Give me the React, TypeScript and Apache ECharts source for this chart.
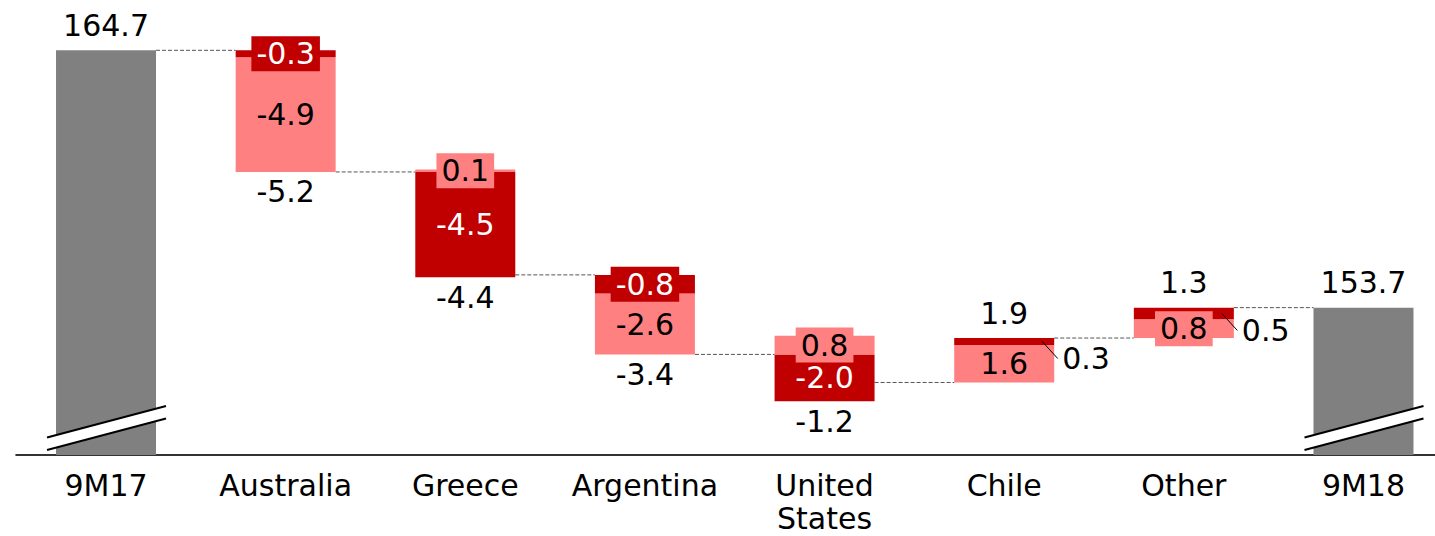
import React, { useEffect, useRef } from 'react';
import * as echarts from 'echarts';

// ---- data ----
const categories = ['9M17', 'Australia', 'Greece', 'Argentina', 'United States', 'Chile', 'Other', '9M18'];
const startTotal = 164.7;
const endTotal = 153.7;
const darkValues = [-0.3, -4.5, -0.8, -2.0, 0.3, 0.5];
const lightValues = [-4.9, 0.1, -2.6, 0.8, 1.6, 0.8];
const netValues = [-5.2, -4.4, -3.4, -1.2, 1.9, 1.3];
const axisMin = 147.4;
const axisMax = 166;

// ---- styles ----
const DARK = '#C00000';
const LIGHT = '#FF8080';
const GREY = '#808080';
const FONT = 'DejaVu Sans';
const FS = 30;
const BAR_W = 100;
const CHART_W = 1460;

type Seg = { lo: number; hi: number; kind: 'dark' | 'light'; v: number };

function buildOption() {
  const baseData: any[] = [];
  const lowerData: any[] = [];
  const upperData: any[] = [];
  const connectors: number[][] = [];
  const leaders: number[][] = [];
  const netLabels: number[][] = [];

  const segItem = (s: Seg, i: number) => {
    const isDark = s.kind === 'dark';
    const small = Math.abs(s.v) < 1;
    const outside = isDark && s.v > 0;
    const label: any = {
      show: true,
      formatter: s.v.toFixed(1),
      fontSize: FS,
      fontFamily: FONT,
      color: isDark ? '#ffffff' : '#000000',
    };
    if (outside) {
      Object.assign(label, { position: 'right', distance: 8, offset: [0, 17], color: '#000000' });
      leaders.push([i, (s.lo + s.hi) / 2]);
    } else {
      label.position = 'inside';
      if (small) {
        Object.assign(label, {
          backgroundColor: isDark ? DARK : LIGHT,
          padding: [2, 5],
          lineHeight: 31,
        });
      }
    }
    return { value: s.hi - s.lo, itemStyle: { color: isDark ? DARK : LIGHT }, label };
  };

  baseData.push({ value: startTotal, itemStyle: { color: GREY } });
  lowerData.push('-');
  upperData.push('-');
  netLabels.push([0, startTotal, startTotal, 1]);
  let level = startTotal;
  connectors.push([0, level]);

  for (let k = 0; k < darkValues.length; k++) {
    const i = k + 1;
    const comps: { kind: 'dark' | 'light'; v: number }[] = [
      { kind: 'dark', v: darkValues[k] },
      { kind: 'light', v: lightValues[k] },
    ];
    const neg = comps.filter((c) => c.v < 0);
    const pos = comps.filter((c) => c.v > 0).reverse();
    const segs: Seg[] = [];
    let cur = level;
    for (const c of neg) {
      segs.push({ lo: cur + c.v, hi: cur, kind: c.kind, v: c.v });
      cur += c.v;
    }
    cur = level;
    for (const c of pos) {
      segs.push({ lo: cur, hi: cur + c.v, kind: c.kind, v: c.v });
      cur += c.v;
    }
    segs.sort((a, b) => a.lo - b.lo);
    const low = segs[0].lo;
    const high = segs[segs.length - 1].hi;
    baseData.push({ value: low, itemStyle: { color: 'transparent' }, label: { show: false } });
    lowerData.push(segItem(segs[0], i));
    upperData.push(segs[1] ? segItem(segs[1], i) : '-');
    const net = netValues[k];
    netLabels.push(net < 0 ? [i, low, net, -1] : [i, high, net, 1]);
    level = Math.round((level + net) * 10) / 10;
    connectors.push([i, level]);
  }

  baseData.push({ value: endTotal, itemStyle: { color: GREY } });
  lowerData.push('-');
  upperData.push('-');
  netLabels.push([categories.length - 1, endTotal, endTotal, 1]);

  const half = BAR_W / 2;

  return {
    animation: false,
    grid: { left: 16.2, right: 6.7, top: 19.9, bottom: 81, outerBoundsMode: 'none', containLabel: false },
    xAxis: {
      type: 'category',
      data: categories,
      axisTick: { show: false },
      axisLine: { onZero: false, lineStyle: { color: '#333333', width: 2 } },
      axisLabel: {
        fontSize: FS,
        fontFamily: FONT,
        color: '#000000',
        margin: 14,
        lineHeight: 33,
        interval: 0,
        formatter: (v: string) => (v === 'United States' ? 'United\nStates' : v),
      },
      splitLine: { show: false },
    },
    yAxis: {
      type: 'value',
      min: axisMin,
      max: axisMax,
      show: false,
      splitLine: { show: false },
    },
    series: [
      { type: 'bar', name: 'base', stack: 'w', barWidth: BAR_W, data: baseData, silent: true },
      { type: 'bar', name: 'lower', stack: 'w', barWidth: BAR_W, data: lowerData, silent: true },
      { type: 'bar', name: 'upper', stack: 'w', barWidth: BAR_W, data: upperData, silent: true },
      {
        type: 'custom',
        name: 'connectors',
        data: connectors,
        encode: { x: 0, y: 1 },
        silent: true,
        z: 1,
        renderItem: (_p: any, api: any) => {
          const i = api.value(0);
          const v = api.value(1);
          const a = api.coord([i, v]);
          const b = api.coord([i + 1, v]);
          return {
            type: 'line',
            shape: { x1: a[0] + half, y1: a[1], x2: b[0] - half, y2: b[1] },
            style: { stroke: '#555555', lineWidth: 1, lineDash: [4, 2] },
          };
        },
      },
      {
        type: 'custom',
        name: 'leaders',
        data: leaders,
        encode: { x: 0, y: 1 },
        silent: true,
        z: 4,
        renderItem: (_p: any, api: any) => {
          const p = api.coord([api.value(0), api.value(1)]);
          return {
            type: 'line',
            shape: { x1: p[0] + half - 12, y1: p[1], x2: p[0] + half + 3.5, y2: p[1] + 17 },
            style: { stroke: '#000000', lineWidth: 1 },
          };
        },
      },
      {
        type: 'custom',
        name: 'breaks',
        data: [
          [0, axisMin],
          [categories.length - 1, axisMin],
        ],
        encode: { x: 0, y: 1 },
        silent: true,
        z: 5,
        renderItem: (_p: any, api: any) => {
          const p = api.coord([api.value(0), api.value(1)]);
          const x0 = p[0] - 59;
          const x1 = p[0] + 60;
          return {
            type: 'group',
            children: [
              {
                type: 'polygon',
                shape: {
                  points: [
                    [x0, p[1] - 17.5],
                    [x1, p[1] - 49],
                    [x1, p[1] - 36.5],
                    [x0, p[1] - 5],
                  ],
                },
                style: { fill: '#ffffff' },
              },
              {
                type: 'line',
                shape: { x1: x0, y1: p[1] - 17.5, x2: x1, y2: p[1] - 49 },
                style: { stroke: '#000000', lineWidth: 2 },
              },
              {
                type: 'line',
                shape: { x1: x0, y1: p[1] - 5, x2: x1, y2: p[1] - 36.5 },
                style: { stroke: '#000000', lineWidth: 2 },
              },
            ],
          };
        },
      },
      {
        type: 'custom',
        name: 'netLabels',
        data: netLabels,
        dimensions: ['x', 'y', 'label', 'dir'],
        encode: { x: 0, y: 1 },
        silent: true,
        z: 6,
        renderItem: (_p: any, api: any) => {
          const p = api.coord([api.value(0), api.value(1)]);
          const val = api.value(2) as number;
          const dir = api.value(3) as number;
          return {
            type: 'text',
            x: p[0],
            y: p[1] + (dir > 0 ? -25 : 20),
            style: {
              text: val.toFixed(1),
              fill: '#000000',
              fontSize: FS,
              fontFamily: FONT,
              align: 'center',
              verticalAlign: 'middle',
            },
          };
        },
      },
    ],
  };
}

export default function App() {
  const ref = useRef<HTMLDivElement>(null);
  useEffect(() => {
    if (!ref.current) return;
    const chart = echarts.init(ref.current, undefined, { renderer: 'svg' });
    chart.setOption(buildOption() as any);
    return () => chart.dispose();
  }, []);
  return (
    <div
      style={{
        position: 'absolute',
        left: 0,
        top: 0,
        width: 1435,
        height: 536,
        overflow: 'hidden',
        background: '#ffffff',
      }}
    >
      <div ref={ref} style={{ width: CHART_W, height: 536 }} />
    </div>
  );
}
